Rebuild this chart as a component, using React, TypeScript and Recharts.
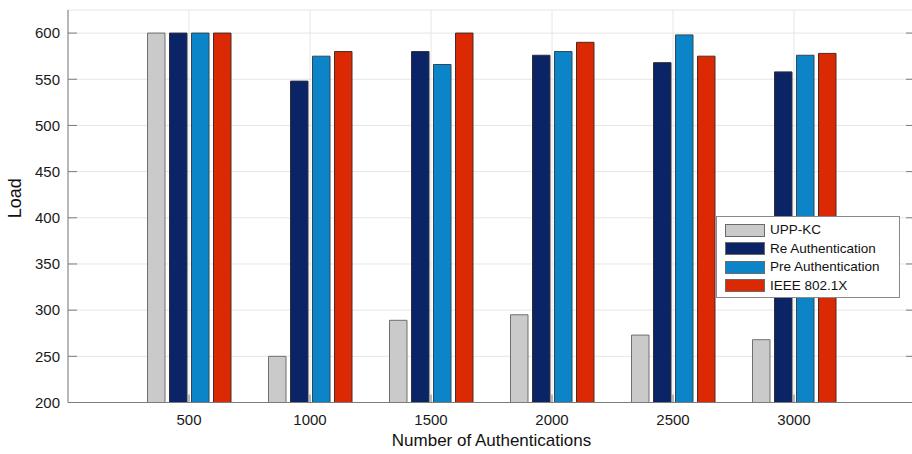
import React from 'react';
import {
  BarChart,
  Bar,
  XAxis,
  YAxis,
  CartesianGrid,
  Legend,
  Label,
} from 'recharts';

// Number of authentications (x categories)
const categories = ['500', '1000', '1500', '2000', '2500', '3000'];

// Load per scheme
const uppKc = [600, 250, 289, 295, 273, 268];
const reAuthentication = [600, 548, 580, 576, 568, 558];
const preAuthentication = [600, 575, 566, 580, 598, 576];
const ieee8021x = [600, 580, 600, 590, 575, 578];

const yTicks = [200, 250, 300, 350, 400, 450, 500, 550, 600];
const yDomain = [200, 625];

const series = [
  { key: 'upp', name: 'UPP-KC', values: uppKc, fill: '#cacaca', stroke: '#6f6f6f' },
  { key: 're', name: 'Re Authentication', values: reAuthentication, fill: '#0b2466', stroke: '#2e2e3a' },
  { key: 'pre', name: 'Pre Authentication', values: preAuthentication, fill: '#0c85c8', stroke: '#2f4656' },
  { key: 'ieee', name: 'IEEE 802.1X', values: ieee8021x, fill: '#db2a03', stroke: '#4a2a22' },
];

const data = categories.map((name, i) => {
  const row: Record<string, string | number> = { name };
  series.forEach((s) => {
    row[s.key] = s.values[i];
  });
  return row;
});

const FONT = '"Liberation Sans", Arial, Helvetica, sans-serif';
const AXIS = '#7c7c7c';

const LegendBox = () => (
  <div
    style={{
      background: '#ffffff',
      border: '1px solid #8a8a8a',
      padding: '4px 8px 2px 8px',
      fontFamily: FONT,
      fontSize: 13.5,
      color: '#111',
      boxSizing: 'border-box',
      width: 184,
    }}
  >
    {series.map((s) => (
      <div
        key={s.key}
        style={{ display: 'flex', alignItems: 'center', height: 18.5 }}
      >
        <span
          style={{
            display: 'inline-block',
            width: 40,
            height: 13,
            background: s.fill,
            border: '1px solid #6a6a6a',
            boxSizing: 'border-box',
            marginRight: 5,
          }}
        />
        <span style={{ lineHeight: '18px' }}>{s.name}</span>
      </div>
    ))}
  </div>
);

const YTitle = (props: any) => {
  const vb = props.viewBox || {};
  const x = vb.x + 15;
  const y = vb.y + vb.height / 2 - 8;
  return (
    <text
      x={x}
      y={y}
      transform={`rotate(-90 ${x} ${y})`}
      textAnchor="middle"
      dominantBaseline="central"
      fontFamily={FONT}
      fontSize={18}
      fill="#111"
    >
      Load
    </text>
  );
};

export default function App() {
  return (
    <div
      style={{
        position: 'absolute',
        left: 0,
        top: 0,
        width: 912,
        height: 454,
        overflow: 'hidden',
        background: '#fff',
      }}
    >
      <BarChart
        width={930}
        height={454}
        data={data}
        margin={{ top: 10, right: 0, bottom: 0, left: 0 }}
        barSize={17.5}
        barGap={4.5}
      >
        <CartesianGrid
          xAxisId="bottom"
          yAxisId="left"
          stroke="#e6e6e6"
          strokeWidth={1}
        />
        <XAxis
          xAxisId="bottom"
          dataKey="name"
          height={51.5}
          padding={{ left: 60.5, right: 60.5 }}
          tickSize={-8}
          tickMargin={20}
          axisLine={{ stroke: AXIS }}
          tickLine={{ stroke: AXIS }}
          tick={{ fill: '#1a1a1a', fontSize: 15, fontFamily: FONT }}
        >
          <Label
            value="Number of Authentications"
            position="insideBottom"
            offset={8}
            style={{ fontFamily: FONT, fontSize: 17, fill: '#111' }}
          />
        </XAxis>
        <XAxis
          xAxisId="top"
          dataKey="name"
          orientation="top"
          height={0}
          padding={{ left: 60.5, right: 60.5 }}
          tickSize={-8}
          axisLine={{ stroke: AXIS }}
          tickLine={{ stroke: AXIS }}
          tick={() => <g />}
        />
        <YAxis
          yAxisId="left"
          width={68}
          domain={yDomain}
          ticks={yTicks}
          allowDataOverflow
          tickSize={-9}
          tickMargin={17}
          axisLine={{ stroke: AXIS }}
          tickLine={{ stroke: AXIS }}
          tick={{ fill: '#1a1a1a', fontSize: 15, fontFamily: FONT }}
        >
          <Label content={<YTitle />} />
        </YAxis>
        <YAxis
          yAxisId="right"
          orientation="right"
          width={15}
          domain={yDomain}
          ticks={yTicks}
          allowDataOverflow
          tickSize={-9}
          axisLine={{ stroke: AXIS }}
          tickLine={{ stroke: AXIS }}
          tick={() => <g />}
        />
        <Legend
          layout="horizontal"
          verticalAlign="middle"
          align="center"
          content={<LegendBox />}
          wrapperStyle={{ position: 'absolute', left: 716, top: 216, width: 184 }}
        />
        {series.map((s) => (
          <Bar
            key={s.key}
            xAxisId="bottom"
            yAxisId="left"
            dataKey={s.key}
            name={s.name}
            fill={s.fill}
            stroke={s.stroke}
            strokeWidth={1}
            isAnimationActive={false}
          />
        ))}
      </BarChart>
    </div>
  );
}
